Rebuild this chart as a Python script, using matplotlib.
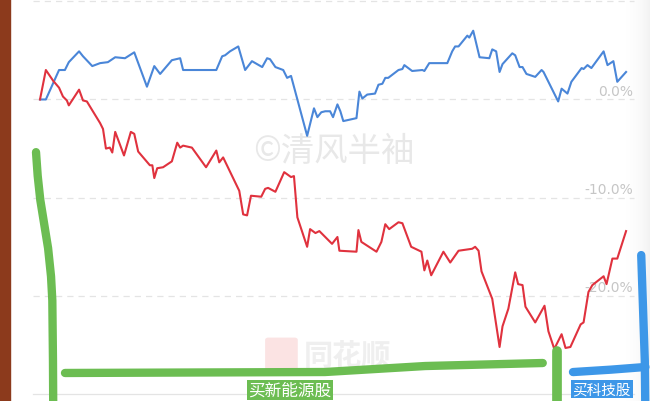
import numpy as np
import matplotlib
matplotlib.use("Agg")
import matplotlib.pyplot as plt
from matplotlib.patches import Rectangle, FancyBboxPatch

plt.rcParams['font.family'] = ['Noto Sans CJK SC', 'DejaVu Sans']

# Portfolio return curves (% change), x = trading day
blue_day = [0, 1.2, 3.9, 5.1, 5.9, 8.0, 8.8, 10.7, 12.3, 13.9, 15.4, 17.4, 19.3, 21.9, 23.4,
            24.6, 27.0, 28.7, 29.3, 36.1, 37.3, 37.9, 38.9, 40.6, 42.0, 43.4, 45.5, 46.5,
            47.1, 48.2, 49.8, 50.6, 51.4, 54.7, 56.1, 56.8, 57.6, 58.4, 59.4, 60.0, 60.9,
            61.5, 62.1, 64.8, 65.4, 66.0, 67.0, 68.6, 69.3, 70.1, 70.7, 71.3, 73.4, 74.2,
            74.6, 76.2, 78.3, 78.7, 79.7, 83.4, 84.4, 85.0, 85.7, 87.5, 87.9, 88.7, 90.0,
            92.0, 92.6, 93.4, 94.1, 94.7, 96.7, 97.3, 98.2, 98.8, 99.6, 101.4, 102.7, 103.1,
            106.1, 106.8, 108.0, 108.8, 110.9, 111.3, 112.1, 112.9, 115.4, 116.2, 117.4,
            118.2, 120.0]
blue_pct = [0.0, 0.0, 3.0, 3.0, 3.8, 4.9, 4.4, 3.4, 3.7, 3.8, 4.3, 4.2, 4.8, 1.3, 3.4,
            2.6, 4.0, 4.2, 3.0, 3.0, 4.4, 4.5, 4.9, 5.4, 3.0, 3.9, 3.3, 4.2,
            4.1, 3.3, 3.0, 2.2, 2.4, -3.7, -0.9, -1.8, -1.3, -1.2, -1.2, -1.8, -0.5,
            -1.2, -2.2, -1.9, 0.8, 0.1, 0.5, 0.6, 1.5, 1.6, 2.2, 2.2, 3.0, 3.1,
            3.5, 2.9, 3.0, 2.9, 3.7, 3.7, 4.9, 5.4, 5.4, 6.5, 6.3, 7.0, 4.3,
            4.2, 5.1, 4.9, 2.8, 3.6, 4.7, 4.5, 3.3, 3.3, 2.6, 2.3, 3.0, 2.8,
            -0.2, 1.1, 0.6, 1.8, 3.2, 3.1, 3.5, 3.2, 4.9, 3.5, 3.9,
            1.8, 2.8]

red_day = [0, 1.2, 2.7, 3.9, 4.7, 5.5, 5.9, 8.0, 8.8, 9.6, 10.7, 12.3, 12.9, 13.5, 14.3,
           14.8, 15.4, 17.2, 18.6, 19.3, 20.1, 22.5, 23.0, 23.4, 24.0, 25.2, 27.0, 28.1,
           28.7, 29.3, 31.1, 34.0, 36.1, 36.7, 37.5, 40.8, 41.6, 42.4, 43.2, 45.3, 46.1,
           46.7, 48.2, 50.0, 51.4, 52.0, 52.7, 54.7, 55.3, 56.4, 57.2, 59.8, 60.9, 61.3,
           64.8, 65.2, 65.8, 68.9, 69.9, 70.7, 71.5, 73.4, 74.2, 76.0, 78.1, 78.7, 79.3,
           80.1, 82.6, 84.0, 85.7, 88.5, 89.1, 89.8, 90.4, 92.6, 94.1, 94.7, 95.9, 97.3,
           97.9, 98.8, 99.4, 101.4, 103.3, 104.1, 105.3, 106.8, 107.6, 108.6, 110.7, 111.3,
           112.3, 113.1, 115.4, 116.0, 117.2, 118.2, 120.0]
red_pct = [0.0, 3.0, 1.9, 1.2, 0.3, -0.1, -0.6, 1.0, -0.1, -0.2, -1.1, -2.4, -3.0, -5.0, -4.9,
           -5.4, -3.3, -5.7, -3.3, -3.5, -5.3, -6.7, -6.7, -8.0, -7.0, -6.9, -6.3, -4.4,
           -4.9, -4.7, -4.9, -6.9, -5.2, -6.4, -5.9, -9.3, -11.7, -11.8, -9.8, -9.9, -9.1,
           -9.0, -9.4, -7.4, -7.9, -7.8, -12.0, -15.0, -13.2, -13.6, -13.4, -14.7, -14.0, -15.4,
           -15.5, -13.3, -14.5, -15.5, -14.5, -12.7, -13.2, -12.5, -12.6, -15.0, -15.5, -17.4, -16.4,
           -17.9, -15.5, -16.6, -15.4, -15.2, -15.0, -15.4, -17.5, -20.3, -25.2, -23.1, -21.3, -17.6,
           -18.8, -18.9, -21.1, -22.7, -21.0, -23.6, -25.4, -23.9, -25.3, -25.2, -22.9, -22.7,
           -19.6, -18.9, -18.0, -18.8, -16.2, -16.2, -13.4]

grid_vals = [10, 0, -10, -20, -30]
grid_labels = ['', '0.0%', '-10.0%', '-20.0%', '-30.0%']

fig = plt.figure(figsize=(6.5, 4.02), dpi=100)
ax = fig.add_axes([0, 0, 1, 1])
ax.set_facecolor('white')

# screen edge shading on the right
grad = np.linspace(0, 1, 50).reshape(1, -1) ** 2
ax.imshow(grad, extent=[0.955, 1.0, 0, 1], transform=ax.transAxes, aspect='auto',
          cmap='Greys', vmin=0, vmax=9, zorder=0)
# wooden desk strip on the left
ax.add_patch(Rectangle((0, 0), 0.016, 1, transform=ax.transAxes, color='#8c3a1c', zorder=5))

for v, lab in zip(grid_vals, grid_labels):
    ls = '-' if v == -30 else (0, (5, 4))
    ax.axhline(v, xmin=0.05, xmax=0.975, color='#e4e4e4', lw=0.9, ls=ls, zorder=1)
    if lab:
        ax.text(0.974, v + 0.5, lab, transform=ax.get_yaxis_transform(), ha='right',
                va='baseline', fontsize=10, color='#c6c6c6', family='DejaVu Sans', zorder=1)

# watermarks
ax.text(0.514, 0.622, '©清风半袖', transform=ax.transAxes, ha='center', va='center',
        fontsize=24, color='#e8e8e8', zorder=1)
ax.add_patch(FancyBboxPatch((0.413, 0.082), 0.04, 0.07, boxstyle='round,pad=0.004',
                            transform=ax.transAxes, color='#fbe3e3', zorder=1))
ax.text(0.535, 0.115, '同花顺', transform=ax.transAxes, ha='center', va='center',
        fontsize=21, color='#efefef', fontweight='bold', style='italic', zorder=1)

ax.plot(blue_day, blue_pct, color='#4a86d8', lw=1.5, zorder=3)
ax.plot(red_day, red_pct, color='#e0323e', lw=1.5, zorder=3)

ax.set_xlim(-8.19, 124.9)
ax.set_ylim(-30.7, 10.23)
ax.axis('off')

# hand-drawn annotation strokes
green = '#6cbd52'
blue = '#3d97e8'
kw = dict(transform=ax.transAxes, solid_capstyle='round', solid_joinstyle='round',
          clip_on=False, zorder=6)
ax.plot([0.0554, 0.0580, 0.0620, 0.0680, 0.0740, 0.0785, 0.0805, 0.0815, 0.082],
        [0.619, 0.560, 0.500, 0.440, 0.380, 0.310, 0.250, 0.100, -0.05],
        color=green, lw=6, **kw)
ax.plot([0.100, 0.5, 0.654, 0.835], [0.0697, 0.0721, 0.087, 0.0945], color=green, lw=6, **kw)
ax.plot([0.857, 0.857], [0.124, -0.05], color=green, lw=7, **kw)
ax.plot([0.9865, 0.992, 0.993], [0.363, 0.1, -0.05], color=blue, lw=6, **kw)
ax.plot([0.8815, 0.94, 0.993], [0.072, 0.078, 0.0846], color=blue, lw=6, **kw)

ax.text(0.446, 0.028, '买新能源股', transform=ax.transAxes, ha='center', va='center',
        fontsize=12, color='white', zorder=7,
        bbox=dict(boxstyle='square,pad=0.1', fc=green, ec='none'))
ax.text(0.926, 0.03, '买科技股', transform=ax.transAxes, ha='center', va='center',
        fontsize=10.5, color='white', zorder=7,
        bbox=dict(boxstyle='square,pad=0.12', fc=blue, ec='none'))

fig.savefig('out.png', dpi=100)
